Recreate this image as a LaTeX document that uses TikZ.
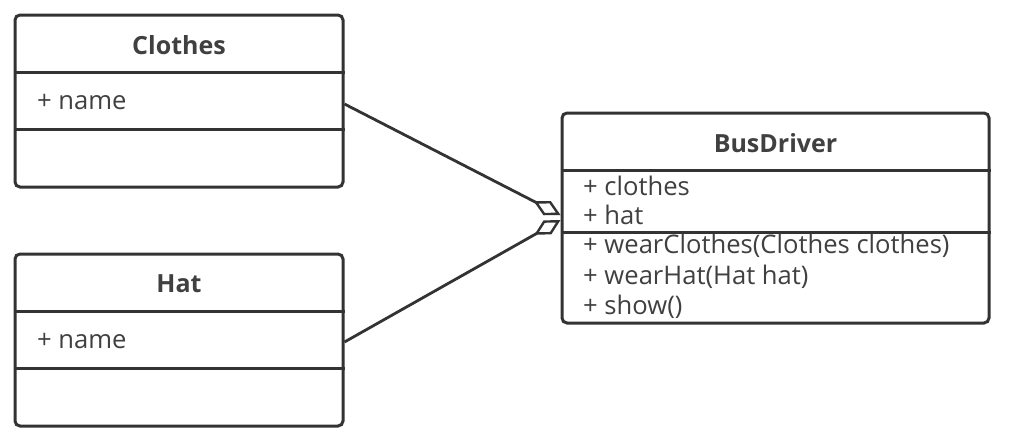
\documentclass[tikz,border=0pt]{standalone}
\usepackage{fontspec}
\setmainfont{Open Sans}
\usetikzlibrary{arrows.meta,positioning,calc}

\definecolor{umlline}{HTML}{333333}
\definecolor{umltext}{HTML}{404040}

\tikzset{
	classbox/.style={draw=umlline, line width=3pt, rounded corners=5pt, fill=white, inner sep=0pt},
	classname/.style={font=\bfseries\fontsize{25}{30}\selectfont, text=umltext, inner sep=0pt},
	member/.style={font=\fontsize{25.6}{30}\selectfont, text=umltext, anchor=west, inner sep=0pt},
	divider/.style={draw=umlline, line width=3pt},
	aggr/.style={draw=umlline, line width=2.8pt,
			-{Diamond[open, length=30pt, width=16pt, line width=2.4pt]}},
}

\begin{document}
\begin{tikzpicture}[x=1pt, y=-1pt]
	\useasboundingbox (0,0) rectangle (1012,442);
	% class boxes
	\node[classbox, minimum width=328pt, minimum height=172pt] (clothes) at (179,101) {};
	\node[classbox, minimum width=328pt, minimum height=172pt] (hat) at (179,340) {};
	\node[classbox, minimum width=427pt, minimum height=210pt] (driver) at (775.5,218) {};
	% Clothes
	\node[classname] (clothesname) at (179,45) {Clothes};
	\draw[divider] (clothes.west |- 0,72) -- (clothes.east |- 0,72);
	\draw[divider] (clothes.west |- 0,129) -- (clothes.east |- 0,129);
	\node[member] (clothesattr) at (37,102) {+ name};
	% Hat
	\node[classname] (hatname) at (179,284) {Hat};
	\draw[divider] (hat.west |- 0,311) -- (hat.east |- 0,311);
	\draw[divider] (hat.west |- 0,368) -- (hat.east |- 0,368);
	\node[member] (hatattr) at (37,341) {+ name};
	% BusDriver
	\node[classname] (drivername) at (775.5,143) {BusDriver};
	\draw[divider] (driver.west |- 0,170) -- (driver.east |- 0,170);
	\draw[divider] (driver.west |- 0,232) -- (driver.east |- 0,232);
	\node[member] (attrclothes) at (583,186) {+ clothes};
	\node[member] (attrhat) at (583,215) {+ hat};
	\node[member] (opwearclothes) at (583,246) {+ wearClothes(Clothes clothes)};
	\node[member] (opwearhat) at (583,277) {+ wearHat(Hat hat)};
	\node[member] (opshow) at (583,307) {+ show()};
	% aggregations
	\coordinate (clothesport) at (clothes.east |- 0,104);
	\coordinate (hatport) at (hat.east |- 0,342);
	\coordinate (driverportA) at ($(driver.west)+(0,-3)$);
	\coordinate (driverportB) at ($(driver.west)+(0,2)$);
	\draw[aggr] (clothesport) -- (driverportA);
	\draw[aggr] (hatport) -- (driverportB);
\end{tikzpicture}
\end{document}
